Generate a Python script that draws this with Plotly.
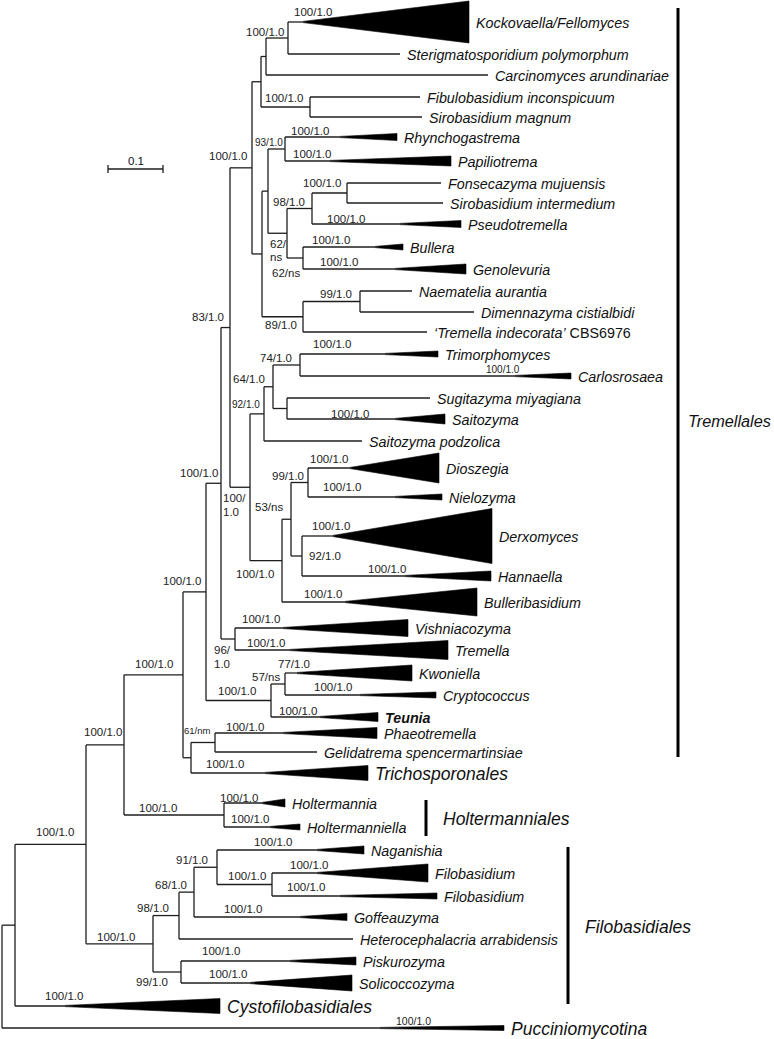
import plotly.graph_objects as go

# ---------------- data ----------------
# internal nodes: id, parent, x position (tree drawing units)
node_ids = ["root", "n15", "n86", "n124", "n153", "n183", "n224", "n179", "n181", "n194", "n217",
            "n272", "n207", "n191", "n215", "n221", "n271", "n285k", "n230", "n235", "n252", "n250",
            "n264", "n282", "n273", "n300", "n287s", "n291", "n308", "n302", "n261", "n262", "n266",
            "n310", "n288", "n268", "n303b", "n285r", "n287", "n312", "n303a", "n347", "n360"]
node_parent = [None, "root", "n15", "n86", "n86", "n124", "n124", "n153", "n153", "n179", "n194",
               "n217", "n183", "n183", "n191", "n207", "n207", "n271", "n221", "n221", "n230", "n230",
               "n250", "n250", "n264", "n273", "n273", "n282", "n291", "n291", "n252", "n252", "n261",
               "n261", "n266", "n262", "n262", "n268", "n268", "n287", "n287", "n312", "n303b"]
node_x = [2, 15, 86, 124, 153, 183, 224, 179, 181, 194, 217,
          272, 206, 191, 215, 221, 271, 285, 230, 235, 252, 250,
          264, 282, 273, 300, 287, 291, 308, 302, 261, 262, 266,
          310, 288, 268, 303, 285, 287, 312, 303, 347, 360]

# leaves (tips / collapsed clades)
leaf_names = ["Kockovaella/Fellomyces", "Sterigmatosporidium polymorphum", "Carcinomyces arundinariae",
              "Fibulobasidium inconspicuum", "Sirobasidium magnum", "Rhynchogastrema", "Papiliotrema",
              "Fonsecazyma mujuensis", "Sirobasidium intermedium", "Pseudotremella", "Bullera",
              "Genolevuria", "Naematelia aurantia", "Dimennazyma cistialbidi",
              "‘Tremella indecorata’ CBS6976", "Trimorphomyces", "Carlosrosaea", "Sugitazyma miyagiana",
              "Saitozyma", "Saitozyma podzolica", "Dioszegia", "Nielozyma", "Derxomyces", "Hannaella",
              "Bulleribasidium", "Vishniacozyma", "Tremella", "Kwoniella", "Cryptococcus", "Teunia",
              "Phaeotremella", "Gelidatrema spencermartinsiae", "Trichosporonales", "Holtermannia",
              "Holtermanniella", "Naganishia", "Filobasidium", "Filobasidium ", "Goffeauzyma",
              "Heterocephalacria arrabidensis", "Piskurozyma", "Solicoccozyma", "Cystofilobasidiales",
              "Pucciniomycotina"]
leaf_parent = ["n288", "n288", "n266", "n310", "n310", "n285r", "n285r", "n347", "n347", "n312", "n303a",
               "n303a", "n360", "n360", "n303b", "n300", "n300", "n287s", "n287s", "n264", "n308", "n308",
               "n302", "n302", "n282", "n235", "n235", "n285k", "n285k", "n271", "n215", "n215", "n191",
               "n224", "n224", "n217", "n272", "n272", "n194", "n179", "n181", "n181", "n15", "root"]
leaf_y = [22, 54, 75, 97, 117, 137, 161, 183, 203, 224, 247,
          269, 291, 312, 332, 354, 376, 398, 419, 441, 468, 497, 536, 576,
          602, 628, 650, 673, 695, 717, 733, 752, 773, 803,
          827, 850, 873, 896, 917, 939, 961, 983, 1006, 1028]
leaf_end = [469, 400, 488, 420, 422, 397, 451, 441, 443, 461, 403,
            466, 412, 474, 427, 438, 571, 430, 445, 362, 439, 442, 492, 491,
            477, 408, 448, 412, 436, 378, 377, 317, 368, 285,
            300, 364, 428, 437, 347, 353, 356, 352, 220, 504]
# collapsed clade wedge: apex position and half-height (None = single terminal)
leaf_apex = [303, None, None, None, None, 340, 330, None, None, 400, 375,
             395, None, None, None, 385, 515, None, 395, None, 350, 395, 333, 405,
             345, 283, 290, 297, 360, 320, 283, None, 265, 262,
             270, 317, 317, 340, 300, None, 290, 250, 65, 380]
leaf_halfh = [21, 0, 0, 0, 0, 3.5, 5, 0, 0, 3.5, 3,
              5, 0, 0, 0, 3, 3, 0, 5, 0, 15, 3, 27.5, 5,
              14, 8.5, 9.5, 8, 3, 4.5, 5.5, 0, 7.5, 4,
              3, 4, 9, 3, 3.5, 0, 4, 8, 7.5, 2.5]
leaf_style = ["i"] * 29 + ["bi"] + ["i", "i", "big", "i", "i", "i", "i", "i", "i", "i", "i", "i", "big", "big"]

# support values: text, x, y, font size
support_text = ["100/1.0", "100/1.0", "100/1.0", "93/1.0", "100/1.0", "100/1.0", "100/1.0", "98/1.0",
                "100/1.0", "62/", "ns", "100/1.0", "100/1.0", "62/ns", "99/1.0", "89/1.0", "100/1.0",
                "83/1.0", "100/1.0", "74/1.0", "100/1.0", "64/1.0", "92/1.0", "100/1.0", "100/1.0",
                "99/1.0", "100/1.0", "100/1.0", "100/", "1.0", "53/ns", "100/1.0", "92/1.0", "100/1.0",
                "100/1.0", "100/1.0", "100/1.0", "100/1.0", "100/1.0", "96/", "1.0", "77/1.0", "100/1.0",
                "57/ns", "100/1.0", "100/1.0", "100/1.0", "100/1.0", "61/nm", "100/1.0", "100/1.0",
                "100/1.0", "100/1.0", "100/1.0", "100/1.0", "100/1.0", "91/1.0", "100/1.0", "100/1.0",
                "68/1.0", "100/1.0", "98/1.0", "100/1.0", "100/1.0", "100/1.0", "100/1.0", "99/1.0",
                "100/1.0", "100/1.0"]
support_x = [313, 265, 284, 269, 310, 312, 322, 289,
             346, 278, 276, 331, 339, 286, 336, 281, 228,
             208, 332, 276, 503, 249, 246, 350, 329,
             288, 199, 342, 234, 231, 269, 331, 325, 387,
             255, 182, 323, 261, 266, 222, 222, 294, 154,
             266, 333, 237, 298, 245, 197, 103, 225,
             239, 158, 250, 55, 273, 192, 309, 247,
             171, 306, 153, 243, 116, 221, 228, 152,
             64, 413]
support_y = [12, 32, 98, 142, 131, 154, 183, 202,
             219, 244, 257, 240, 262, 273, 294, 325, 156,
             317, 344, 358, 369, 379, 404, 414, 459,
             476, 473, 487, 498, 512, 507, 526, 556, 569,
             574, 581, 594, 619, 643, 650, 664, 664, 664,
             677, 687, 691, 711, 727, 730, 732, 764,
             798, 808, 819, 832, 842, 860, 865, 876,
             885, 887, 908, 909, 937, 951, 974, 982,
             996, 1021]
support_size = [11.5, 11.5, 11.5, 10, 11.5, 11.5, 11.5, 11.5,
                11.5, 11.5, 11.5, 11.5, 11.5, 11.5, 11.5, 11.5, 11.5,
                11.5, 11.5, 11.5, 10, 11.5, 10, 11.5, 11.5,
                11.5, 11.5, 11.5, 11.5, 11.5, 11.5, 11.5, 11.5, 11.5,
                11.5, 11.5, 11.5, 11.5, 11.5, 11.5, 11.5, 11.5, 11.5,
                11.5, 11.5, 11.5, 11.5, 11.5, 9.5, 11.5, 11.5,
                11.5, 11.5, 11.5, 11.5, 11.5, 11.5, 11.5, 11.5,
                11.5, 11.5, 11.5, 11.5, 11.5, 11.5, 11.5, 11.5,
                11.5, 10.5]

# order-level brackets
group_names = ["Tremellales", "Holtermanniales", "Filobasidiales"]
group_x = [678, 426, 568]
group_y0 = [8, 800, 847]
group_y1 = [757, 836, 1004]

scale_value = 0.1
units_per_substitution = 550
scale_origin = (108, 169)

# ---------------- build tree geometry ----------------
FONT = "Liberation Sans, Arial, sans-serif"
LINE = "#1e1e1e"
PAGE_W, PAGE_H = 774, 1039

xpos = dict(zip(node_ids, node_x))
parent = dict(zip(node_ids, node_parent))
children = {n: [] for n in node_ids}
ypos = {}
for i, name in enumerate(leaf_names):
    lid = "leaf%d" % i
    parent[lid] = leaf_parent[i]
    children[leaf_parent[i]].append(lid)
    ypos[lid] = leaf_y[i]
for n, p in zip(node_ids, node_parent):
    if p is not None:
        children[p].append(n)


def get_y(n):
    if n in ypos:
        return ypos[n]
    ys = [get_y(c) for c in children[n]]
    ypos[n] = (min(ys) + max(ys)) / 2
    return ypos[n]


for n in node_ids:
    get_y(n)

lx, ly = [], []
for n in node_ids:
    ys = [ypos[c] for c in children[n]]
    lx += [xpos[n], xpos[n], None]
    ly += [min(ys), max(ys), None]
for n in node_ids:
    p = parent[n]
    if p is not None:
        lx += [xpos[p], xpos[n], None]
        ly += [ypos[n], ypos[n], None]

tx, ty = [], []
for i in range(len(leaf_names)):
    px = xpos[leaf_parent[i]]
    y = leaf_y[i]
    if leaf_apex[i] is None:
        lx += [px, leaf_end[i], None]
        ly += [y, y, None]
    else:
        lx += [px, leaf_apex[i], None]
        ly += [y, y, None]
        h = leaf_halfh[i]
        tx += [leaf_apex[i], leaf_end[i], leaf_end[i], leaf_apex[i], None]
        ty += [y - 0.6, y - h, y + h, y + 0.6, None]

fig = go.Figure()
fig.add_trace(go.Scatter(x=lx, y=ly, mode="lines", line=dict(color=LINE, width=1.3),
                         hoverinfo="skip", showlegend=False, cliponaxis=False))
fig.add_trace(go.Scatter(x=tx, y=ty, mode="lines", fill="toself", fillcolor="#000000",
                         line=dict(color="#000000", width=0.6), hoverinfo="skip", showlegend=False))

for gx, g0, g1 in zip(group_x, group_y0, group_y1):
    fig.add_trace(go.Scatter(x=[gx, gx], y=[g0, g1], mode="lines", line=dict(color="#000000", width=3),
                             hoverinfo="skip", showlegend=False))

sx0, sy = scale_origin
sx1 = sx0 + scale_value * units_per_substitution
fig.add_trace(go.Scatter(x=[sx0, sx1, None, sx0, sx0, None, sx1, sx1],
                         y=[sy, sy, None, sy - 4, sy + 4, None, sy - 4, sy + 4],
                         mode="lines", line=dict(color=LINE, width=1.3), hoverinfo="skip", showlegend=False))

ann = []
ann.append(dict(x=(sx0 + sx1) / 2, y=sy - 8, text="%.1f" % scale_value, showarrow=False,
                xanchor="center", yanchor="middle", font=dict(size=11.5, family=FONT, color="#111")))

for i, name in enumerate(leaf_names):
    st = leaf_style[i]
    nm = name.strip()
    if nm.startswith("‘"):
        txt = "<i>‘Tremella indecorata’</i> CBS6976"
    elif st == "bi":
        txt = "<b><i>%s</i></b>" % nm
    else:
        txt = "<i>%s</i>" % nm
    size = 17.5 if st == "big" else 14.3
    ann.append(dict(x=leaf_end[i] + 5, y=leaf_y[i] + 1, text=txt, showarrow=False, xanchor="left",
                    yanchor="middle", font=dict(size=size, family=FONT, color="#111")))

for t, x, y, s in zip(support_text, support_x, support_y, support_size):
    ann.append(dict(x=x, y=y, text=t, showarrow=False, xanchor="center", yanchor="middle",
                    font=dict(size=s, family=FONT, color="#222")))

for name, gx, g0, g1 in zip(group_names, group_x, group_y0, group_y1):
    if name == "Tremellales":
        ax, ay, fs = gx + 8, 421, 16.3
    else:
        ax, ay, fs = gx + 15, (g0 + g1) / 2 + 1, 17.5
    ann.append(dict(x=ax, y=ay, text="<i>%s</i>" % name, showarrow=False, xanchor="left", yanchor="middle",
                    font=dict(size=fs, family=FONT, color="#111")))

fig.update_layout(
    width=PAGE_W, height=PAGE_H, margin=dict(l=0, r=0, t=0, b=0),
    paper_bgcolor="white", plot_bgcolor="white", showlegend=False,
    xaxis=dict(range=[0, PAGE_W], visible=False, fixedrange=True),
    yaxis=dict(range=[PAGE_H, 0], visible=False, fixedrange=True),
    annotations=ann,
)
# remove the browser's default 8px body margin so the figure fills the window exactly
fig.write_html("out.html", config={"displayModeBar": False, "staticPlot": True},
               post_script="document.body.style.margin='0';")
